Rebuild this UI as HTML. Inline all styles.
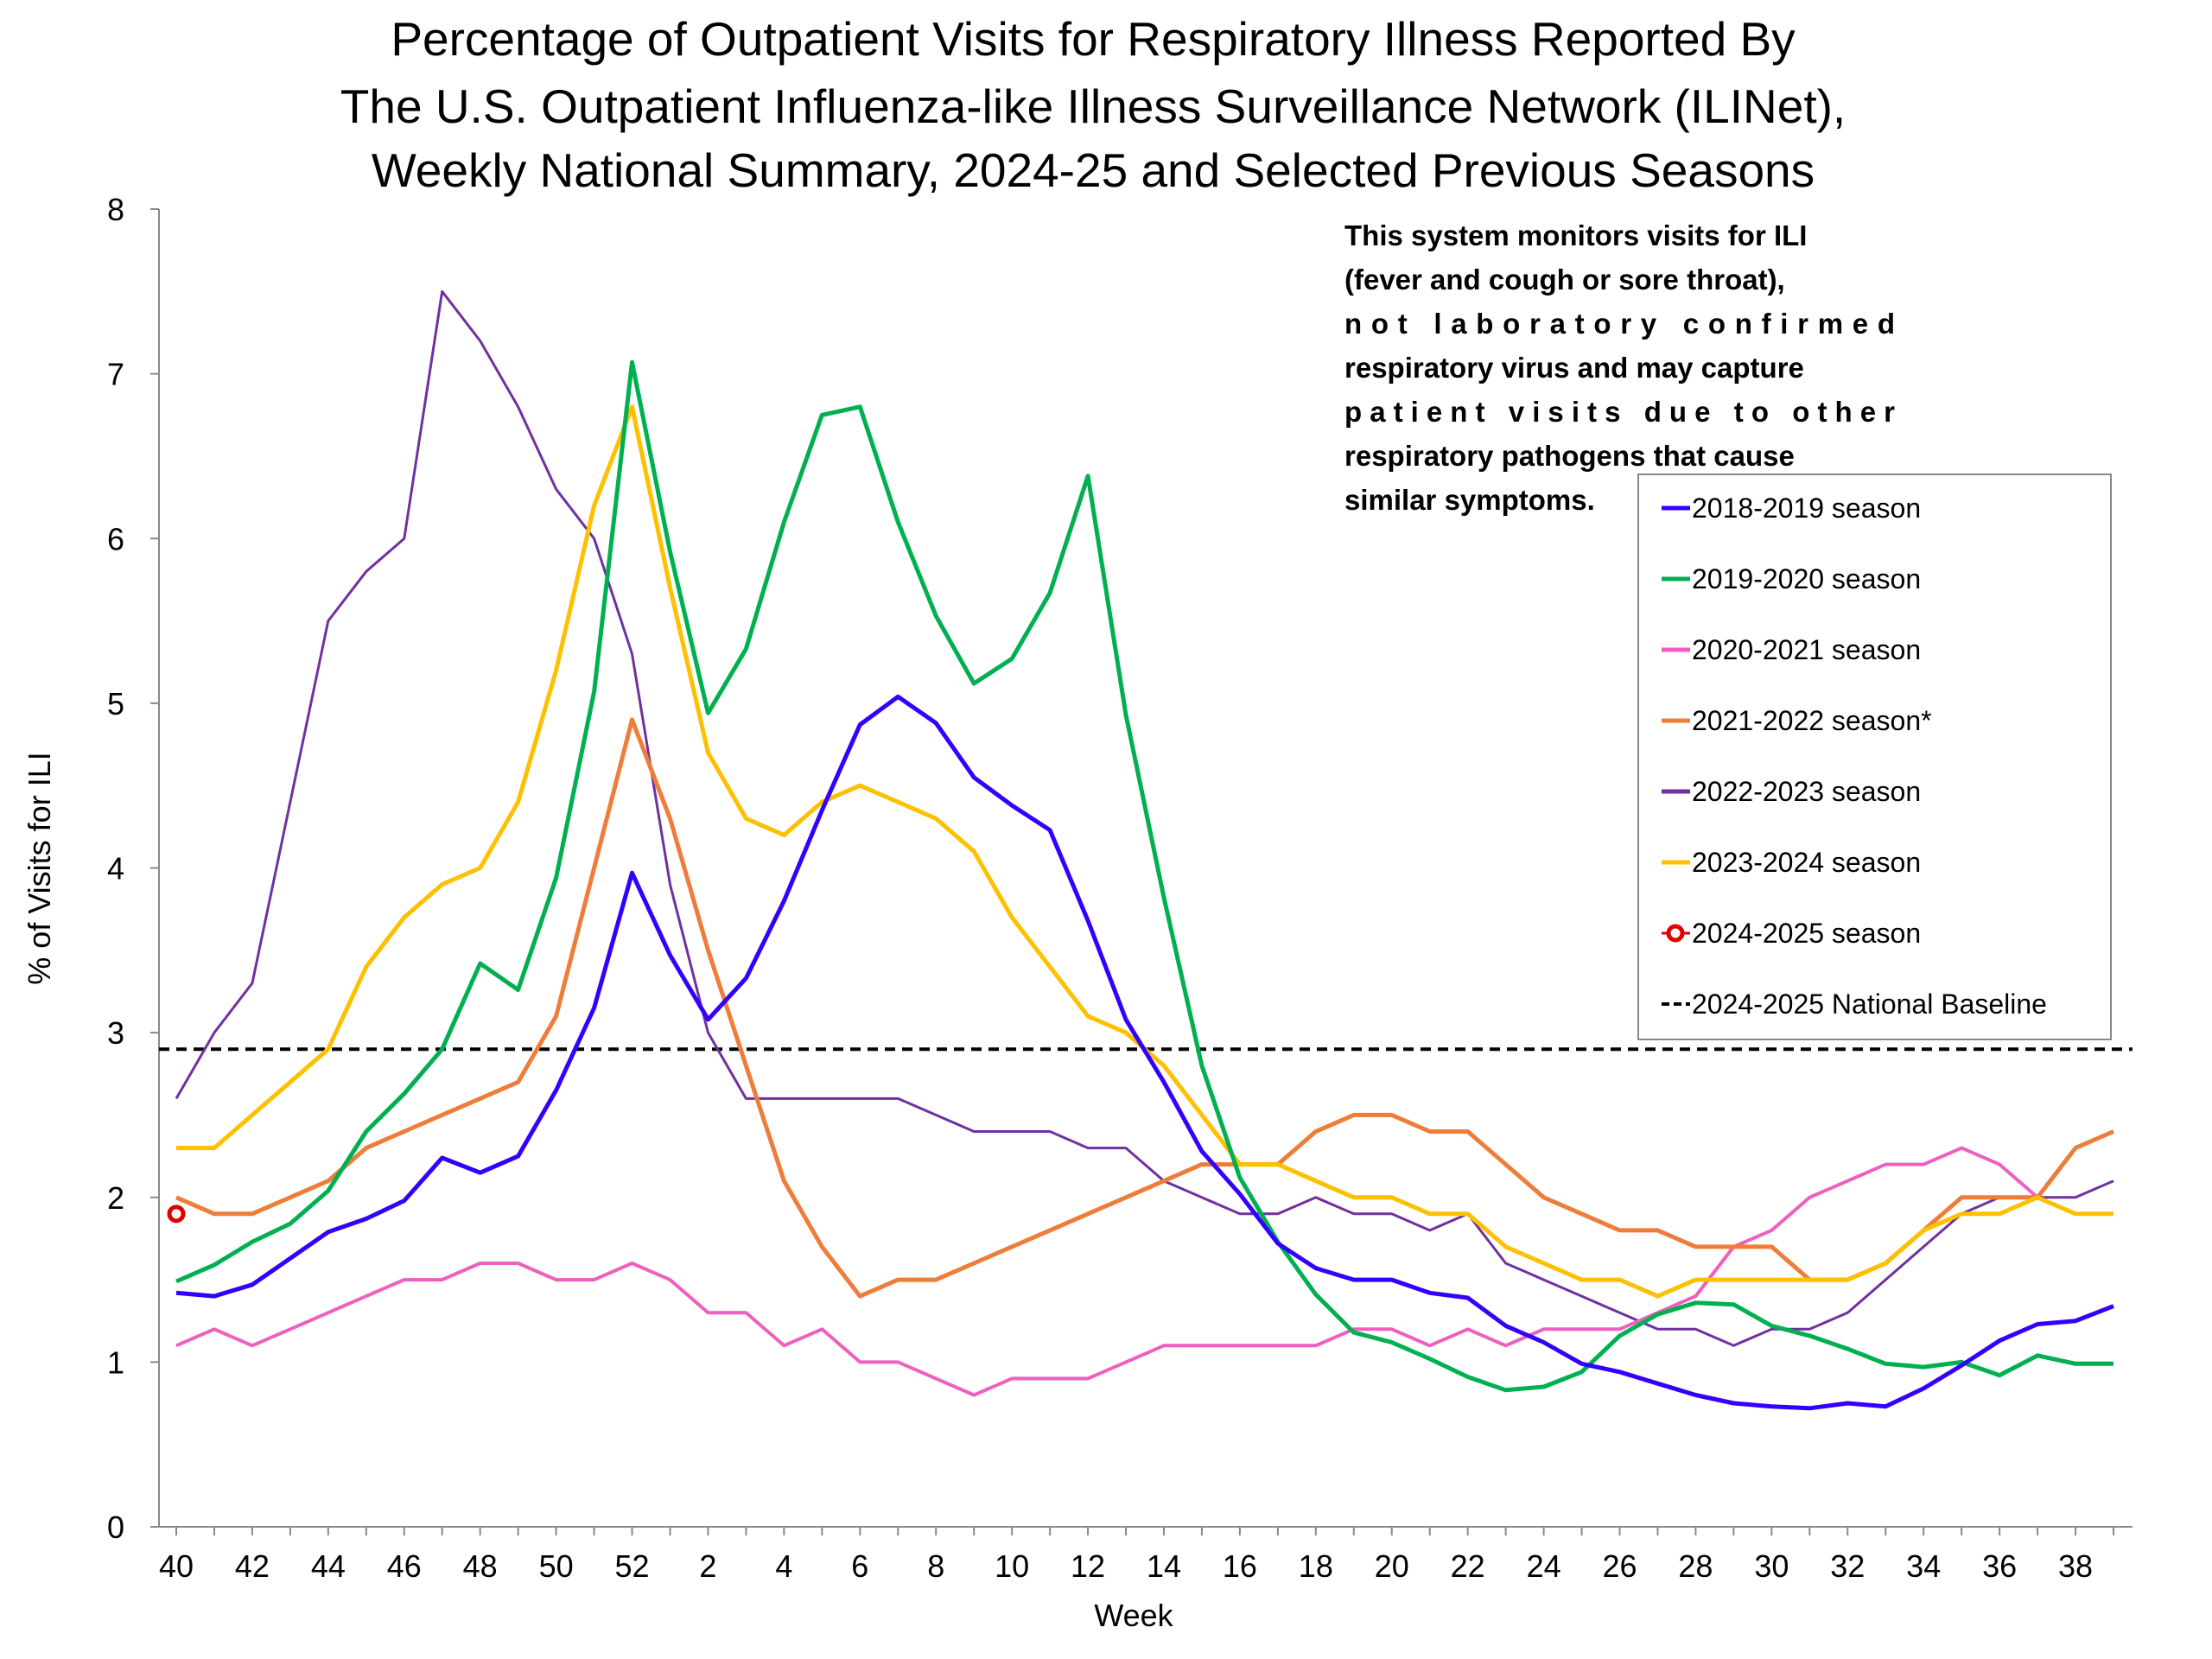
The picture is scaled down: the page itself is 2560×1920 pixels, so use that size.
<!DOCTYPE html>
<html><head><meta charset="utf-8"><style>
html,body{margin:0;padding:0;background:#fff;}
svg{display:block;font-family:"Liberation Sans",sans-serif;}
</style></head><body>
<svg id="chart" width="2560" height="1920" viewBox="0 0 2560 1920" xmlns="http://www.w3.org/2000/svg">
<g font-size="55" text-anchor="middle" fill="#000">
<text x="1265" y="64">Percentage of Outpatient Visits for Respiratory Illness Reported By</text>
<text x="1265" y="142">The U.S. Outpatient Influenza-like Illness Surveillance Network (ILINet),</text>
<text x="1265" y="216">Weekly National Summary, 2024-25 and Selected Previous Seasons</text>
</g>
<text transform="translate(58,1005) rotate(-90)" text-anchor="middle" font-size="36">% of Visits for ILI</text>
<text x="1312" y="1882" text-anchor="middle" font-size="36">Week</text>
<g id="axes"></g>
<g id="series"></g>
<g font-size="33" font-weight="bold" fill="#000">
<text x="1556" y="284">This system monitors visits for ILI</text>
<text x="1556" y="335">(fever and cough or sore throat),</text>
<text x="1556" y="386" textLength="637" lengthAdjust="spacing">not laboratory confirmed</text>
<text x="1556" y="437">respiratory virus and may capture</text>
<text x="1556" y="488" textLength="637" lengthAdjust="spacing">patient visits due to other</text>
<text x="1556" y="539">respiratory pathogens that cause</text>
<text x="1556" y="590">similar symptoms.</text>
</g>
<g id="legend"></g>
</svg>
<script>
const weeks = [40,41,42,43,44,45,46,47,48,49,50,51,52,1,2,3,4,5,6,7,8,9,10,11,12,13,14,15,16,17,18,19,20,21,22,23,24,25,26,27,28,29,30,31,32,33,34,35,36,37,38,39];
const yTicks = [0,1,2,3,4,5,6,7,8];
const s2018 = [1.42,1.40,1.47,1.63,1.79,1.87,1.98,2.24,2.15,2.25,2.65,3.15,3.97,3.47,3.08,3.33,3.80,4.35,4.87,5.04,4.88,4.55,4.38,4.23,3.68,3.08,2.70,2.28,2.02,1.72,1.57,1.50,1.50,1.42,1.39,1.22,1.12,0.99,0.94,0.87,0.80,0.75,0.73,0.72,0.75,0.73,0.84,0.98,1.13,1.23,1.25,1.34];
const s2019 = [1.49,1.59,1.73,1.84,2.04,2.40,2.63,2.90,3.42,3.26,3.94,5.07,7.07,5.92,4.94,5.33,6.10,6.75,6.80,6.10,5.53,5.12,5.27,5.67,6.38,4.93,3.82,2.80,2.12,1.73,1.41,1.18,1.12,1.02,0.91,0.83,0.85,0.94,1.16,1.29,1.36,1.35,1.22,1.16,1.08,0.99,0.97,1.00,0.92,1.04,0.99,0.99];
const s2020 = [1.1,1.2,1.1,1.2,1.3,1.4,1.5,1.5,1.6,1.6,1.5,1.5,1.6,1.5,1.3,1.3,1.1,1.2,1.0,1.0,0.9,0.8,0.9,0.9,0.9,1.0,1.1,1.1,1.1,1.1,1.1,1.2,1.2,1.1,1.2,1.1,1.2,1.2,1.2,1.3,1.4,1.7,1.8,2.0,2.1,2.2,2.2,2.3,2.2,2.0,null,null];
const s2021 = [2.0,1.9,1.9,2.0,2.1,2.3,2.4,2.5,2.6,2.7,3.1,4.0,4.9,4.3,3.5,2.8,2.1,1.7,1.4,1.5,1.5,1.6,1.7,1.8,1.9,2.0,2.1,2.2,2.2,2.2,2.4,2.5,2.5,2.4,2.4,2.2,2.0,1.9,1.8,1.8,1.7,1.7,1.7,1.5,1.5,1.6,1.8,2.0,2.0,2.0,2.3,2.4];
const s2022 = [2.6,3.0,3.3,4.4,5.5,5.8,6.0,7.5,7.2,6.8,6.3,6.0,5.3,3.9,3.0,2.6,2.6,2.6,2.6,2.6,2.5,2.4,2.4,2.4,2.3,2.3,2.1,2.0,1.9,1.9,2.0,1.9,1.9,1.8,1.9,1.6,1.5,1.4,1.3,1.2,1.2,1.1,1.2,1.2,1.3,1.5,1.7,1.9,2.0,2.0,2.0,2.1];
const s2023 = [2.3,2.3,2.5,2.7,2.9,3.4,3.7,3.9,4.0,4.4,5.2,6.2,6.8,5.7,4.7,4.3,4.2,4.4,4.5,4.4,4.3,4.1,3.7,3.4,3.1,3.0,2.8,2.5,2.2,2.2,2.1,2.0,2.0,1.9,1.9,1.7,1.6,1.5,1.5,1.4,1.5,1.5,1.5,1.5,1.5,1.6,1.8,1.9,1.9,2.0,1.9,1.9];
const s2024 = [1.9];
const baseline = [2.9];
const seriesNames = ["2018-2019 season","2019-2020 season","2020-2021 season","2021-2022 season*","2022-2023 season","2023-2024 season","2024-2025 season","2024-2025 National Baseline"];

const NS="http://www.w3.org/2000/svg";
const X0=204, X1=2446, Y0=1767, Y8=242, AX=184, AXR=2468;
const xs=i=>X0+(X1-X0)*i/(weeks.length-1);
const ys=v=>Y0-(Y0-Y8)*v/8;
function mk(tag,attrs,parent){const e=document.createElementNS(NS,tag);for(const k in attrs)e.setAttribute(k,attrs[k]);parent.appendChild(e);return e;}
const axes=document.getElementById('axes');
const ya=mk('line',{x1:AX,y1:Y8,x2:AX,y2:Y0,stroke:'#888','stroke-width':2},axes);


const xa=mk('line',{x1:AX,y1:Y0,x2:AXR,y2:Y0,stroke:'#888','stroke-width':2},axes);


yTicks.forEach(v=>{
  mk('line',{x1:AX-10,y1:ys(v),x2:AX,y2:ys(v),stroke:'#888','stroke-width':2},axes);
  const t=mk('text',{x:144,y:ys(v)+13,'text-anchor':'end','font-size':36},axes);
  t.textContent=v;
  
  
});
weeks.forEach((w,i)=>{
  const x=xs(i);
  mk('line',{x1:x,y1:Y0,x2:x,y2:Y0+10,stroke:'#888','stroke-width':2},axes);
  if(i%2===0){
    const t=mk('text',{x:x,y:1825,'text-anchor':'middle','font-size':36},axes);
    t.textContent=w;
    
    
  }
});
const ser=document.getElementById('series');
const bl=mk('line',{x1:AX,y1:ys(baseline[0]),x2:AXR,y2:ys(baseline[0]),stroke:'#000','stroke-width':4,'stroke-dasharray':'12,8'},ser);


const specs=[[s2022,'#7030a0',3,'line-2022-2023'],[s2020,'#ee5fbf',4,'line-2020-2021'],[s2021,'#ef7d3a',5,'line-2021-2022'],[s2023,'#ffc000',5,'line-2023-2024'],[s2019,'#00b050',5,'line-2019-2020'],[s2018,'#3300ff',5,'line-2018-2019']];
specs.forEach(([d,c,w,n])=>{
  let p='';let pen=false;
  d.forEach((v,i)=>{if(v==null){pen=false;return;}p+=(pen?'L':'M')+xs(i).toFixed(1)+','+ys(v).toFixed(1);pen=true;});
  const e=mk('path',{d:p,fill:'none',stroke:c,'stroke-width':w,'stroke-linejoin':'round'},ser);
  
  
});
s2024.forEach((v,i)=>{
  const c=mk('circle',{cx:xs(i),cy:ys(v),r:8,fill:'#fff',stroke:'#e00000','stroke-width':5},ser);
  
  
});
const lg=document.getElementById('legend');
const box=mk('rect',{x:1896,y:549,width:547,height:654,fill:'#fff',stroke:'#888','stroke-width':2},lg);


const lcol=['#3300ff','#00b050','#ee5fbf','#ef7d3a','#7030a0','#ffc000','#e00000','#000'];
seriesNames.forEach((nm,i)=>{
  const y=588+i*82;
  const g=mk('g',{},lg);
  
  
  if(i===6){mk('line',{x1:1923,y1:y,x2:1956,y2:y,stroke:lcol[i],'stroke-width':3},g);mk('circle',{cx:1939,cy:y,r:8,fill:'#fff',stroke:lcol[i],'stroke-width':5},g);}
  else if(i===7){mk('line',{x1:1923,y1:y,x2:1956,y2:y,stroke:'#000','stroke-width':4,'stroke-dasharray':'9,5'},g);}
  else mk('line',{x1:1923,y1:y,x2:1956,y2:y,stroke:lcol[i],'stroke-width':5},g);
  const t=mk('text',{x:1958,y:y+11,'font-size':32},g);
  t.textContent=nm;
});
</script>
</body></html>
